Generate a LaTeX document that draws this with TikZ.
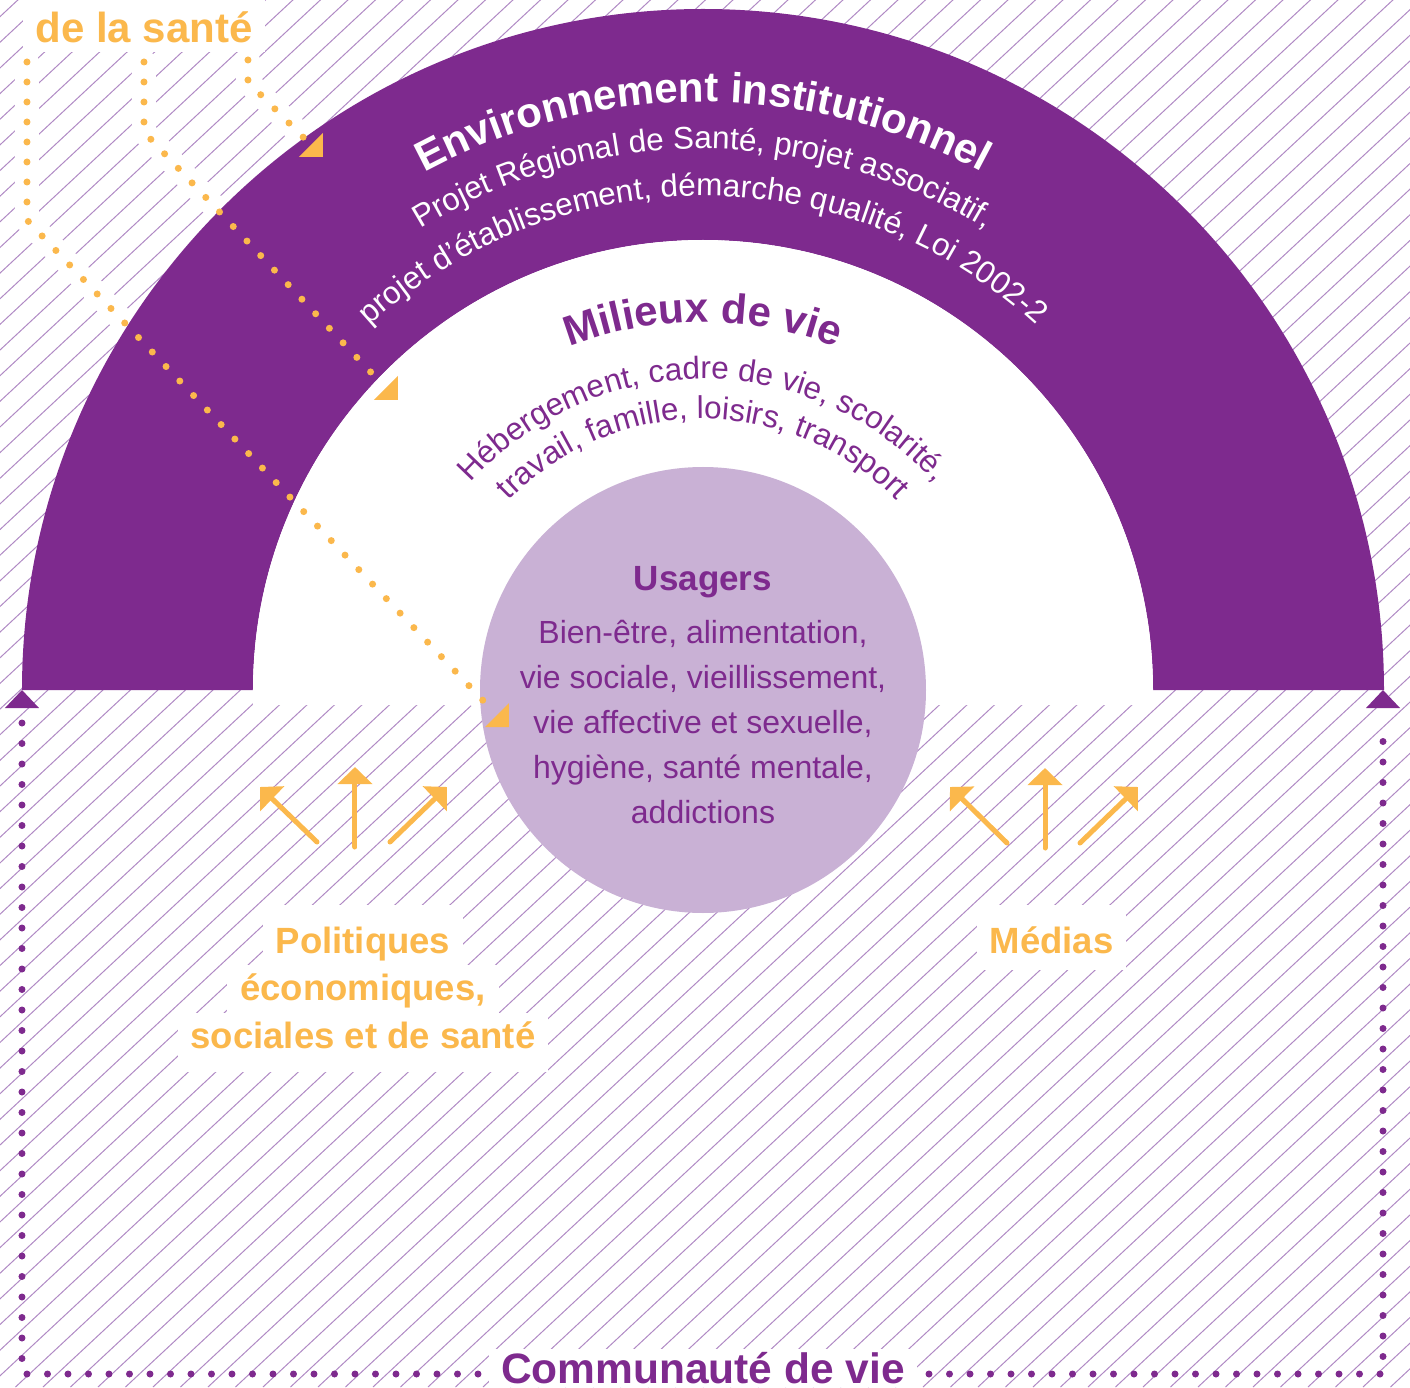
\documentclass[tikz,border=0pt]{standalone}
\usepackage{fontspec}
\setmainfont{Liberation Sans}
\usetikzlibrary{arrows.meta,decorations.text}
\definecolor{purp}{HTML}{7E2A8E}
\definecolor{lilac}{HTML}{C9B1D5}
\definecolor{hatchc}{HTML}{B08AC4}
\definecolor{orng}{HTML}{FBB84C}
\newcommand\fHead{\fontsize{42}{50}\selectfont\bfseries}
\newcommand\fSub{\fontsize{31.5}{37}\selectfont}
\newcommand\fUsa{\fontsize{35}{42}\selectfont\bfseries}
\newcommand\fBody{\fontsize{32}{45}\selectfont}
\newcommand\fOr{\fontsize{36.5}{47}\selectfont\bfseries}
\newcommand\fTitle{\fontsize{42}{50}\selectfont\bfseries}
\newcommand\fComm{\fontsize{42.5}{50}\selectfont\bfseries}
\begin{document}
\begin{tikzpicture}[x=1pt,y=1pt,
  hatchline/.style={hatchc, line width=1pt},
  odots/.style={orng, line width=7pt, line cap=round, dash pattern=on 0pt off 20pt},
  pdots/.style={purp, line width=7pt, line cap=round, dash pattern=on 0pt off 20.5pt},
  wband/.style={white, line width=24pt, line cap=round, line join=round},
  oarrow/.style={orng, line width=5pt, line cap=round, -{Triangle[length=17pt,width=34pt]}},
  olabel/.style={fill=white, text=orng, font=\fOr, inner xsep=13pt, inner ysep=0pt, anchor=base},
  bodyline/.style={text=purp, font=\fBody, anchor=base, inner sep=0pt},
  curved/.style n args={4}{decorate, decoration={text along path, text align=center,
      text color=#1, text={|#2|#3}}},
]
\useasboundingbox (-703,-697) rectangle (707,690);
% hatching
\begin{scope}
\clip (-703,-697) rectangle (707,690);
\foreach \k in {-82,...,27} \draw[hatchline] ({\k*27.5},-697) -- ++(43:2100);
\end{scope}
% orange dotted line coordinates
\coordinate (s1) at (-676,628); \coordinate (b1) at (-676,470);
\coordinate (e1) at (-210,-21); \coordinate (t1) at (-194,-37);
\coordinate (s2) at (-559,628); \coordinate (b2) at (-559,558);
\coordinate (e2) at (-321,306); \coordinate (t2) at (-305,290);
\coordinate (s3) at (-455,630); \coordinate (b3) at (-455,608);
\coordinate (e3) at (-396,549); \coordinate (t3) at (-380,533);
% white bands under the dotted lines
\draw[wband] (s1) -- (b1) -- (e1);
\draw[wband] (s2) -- (b2) -- (e2);
\draw[wband] (s3) -- (b3) -- (e3);
% ring
\fill[purp] (-681,0) arc[start angle=180,end angle=0,radius=681] -- (450,0)
  arc[start angle=0,end angle=180,radius=450] -- cycle;
\fill[white] (-450,0) arc[start angle=180,end angle=0,radius=450] -- (450,-15) -- (-450,-15) -- cycle;
% inner disc
\node[circle, fill=lilac, minimum size=446pt, inner sep=0pt] (disc) at (0,0) {};
% curved texts
\path[curved={white}{\fHead}{Environnement institutionnel}]
  (170:588) arc[start angle=170,end angle=10,radius=588];
\path[curved={white}{\fSub}{Projet Régional de Santé, projet associatif,}]
  (170:541) arc[start angle=170,end angle=10,radius=541];
\path[curved={white}{\fSub}{projet d’établissement, démarche qualité, Loi 2002-2}]
  (170:494) arc[start angle=170,end angle=10,radius=494];
\path[curved={purp}{\fHead}{Milieux de vie}]
  (170:368) arc[start angle=170,end angle=10,radius=368];
\path[curved={purp}{\fSub}{Hébergement, cadre de vie, scolarité,}]
  (170:311) arc[start angle=170,end angle=10,radius=311];
\path[curved={purp}{\fSub}{travail, famille, loisirs, transport}]
  (170:271) arc[start angle=170,end angle=10,radius=271];
% disc texts
\node[text=purp, font=\fUsa, anchor=base, inner sep=0pt] (usa) at (0,100) {Usagers};
\node[bodyline] (u1) at (0,47) {Bien-être, alimentation,};
\node[bodyline] (u2) at (0,2) {vie sociale, vieillissement,};
\node[bodyline] (u3) at (0,-43) {vie affective et sexuelle,};
\node[bodyline] (u4) at (0,-88) {hygiène, santé mentale,};
\node[bodyline] (u5) at (0,-133) {addictions};
% purple frame
\coordinate (fTL) at (-681,-33); \coordinate (fBL) at (-681,-684);
\coordinate (fBR) at (680,-684); \coordinate (fTR) at (680,-33);
\draw[pdots] (fTL) -- (fBL) -- (fBR) -- (fTR);
\coordinate (apL) at (-681,0); \coordinate (apR) at (680,0);
\fill[purp] (apL) -- ++(-17,-18) -- ++(34,0) -- cycle;
\fill[purp] (apR) -- ++(-17,-18) -- ++(34,0) -- cycle;
\node[fill=white, text=purp, font=\fComm, inner xsep=12pt, inner ysep=0pt,
  text height=34pt, text depth=3.5pt, anchor=base] (comm) at (0,-693) {Communauté de vie};
% orange arrows
\coordinate (a1t) at (-386,-152); \coordinate (a1h) at (-443,-97);
\coordinate (a2t) at (-348,-157); \coordinate (a2h) at (-348,-77);
\coordinate (a3t) at (-313,-152); \coordinate (a3h) at (-256,-97);
\coordinate (a4t) at (304,-153); \coordinate (a4h) at (247,-97);
\coordinate (a5t) at (342,-158); \coordinate (a5h) at (342,-78);
\coordinate (a6t) at (377,-153); \coordinate (a6h) at (435,-97);
\foreach \i in {1,...,6} \draw[oarrow] (a\i t) -- (a\i h);
% orange labels
\node[olabel, text height=48pt, text depth=12.5pt] (pol1) at (-340,-263) {Politiques};
\node[olabel, text height=35.5pt, text depth=13pt] (pol2) at (-340,-310) {économiques,};
\node[olabel, text height=35.5pt, text depth=24pt] (pol3) at (-340,-358) {sociales et de santé};
\node[olabel, text height=48pt, text depth=17pt] (medias) at (348.5,-263) {Médias};
\node[olabel, font=\fTitle, inner xsep=12pt, text height=43pt, text depth=9pt] (dls) at (-559,647) {de la santé};
% orange dotted connectors
\draw[odots] (s1) -- (b1) -- (e1);
\draw[odots] (s2) -- (b2) -- (e2);
\draw[odots] (s3) -- (b3) -- (e3);
\foreach \i in {1,2,3} \fill[orng] (t\i) -- ([xshift=-24pt]t\i) -- ([yshift=24pt]t\i) -- cycle;
\end{tikzpicture}
\end{document}
